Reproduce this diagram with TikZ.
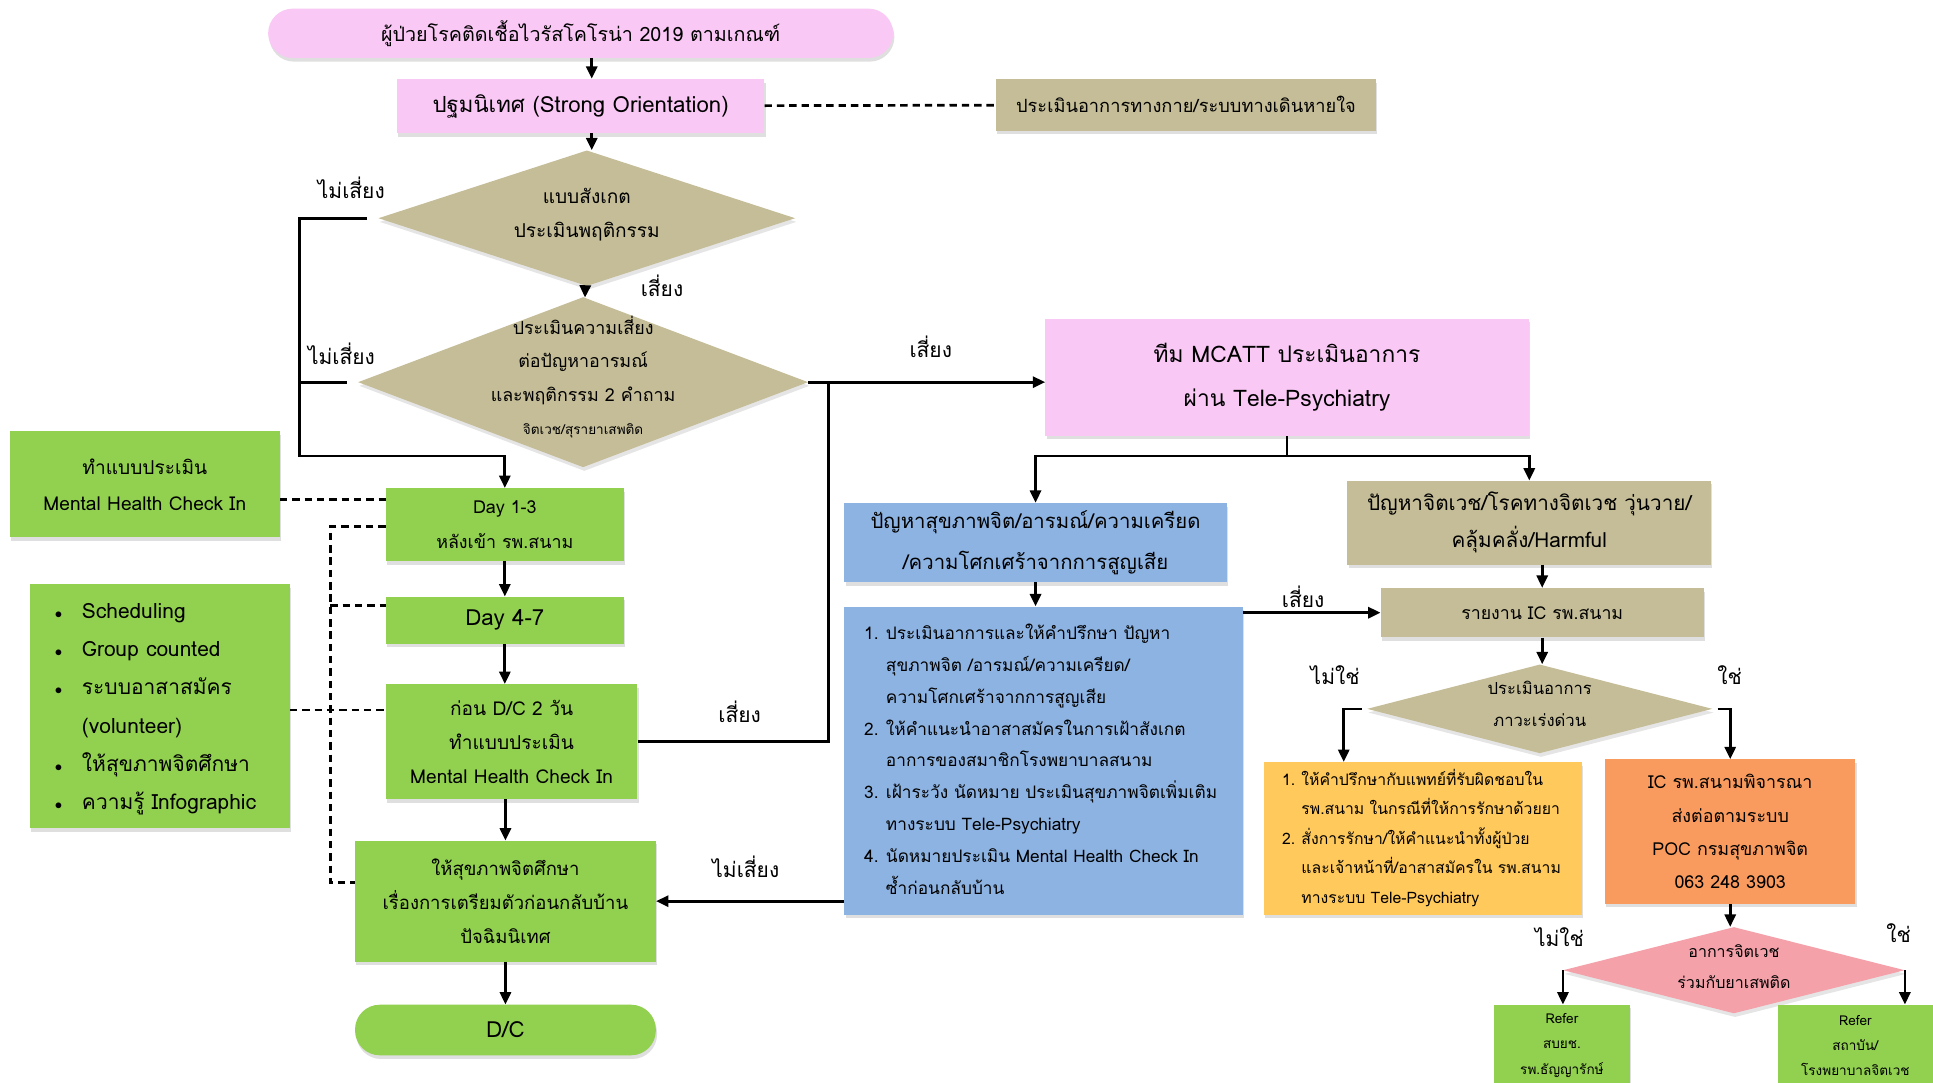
\documentclass[tikz,border=0pt]{standalone}
\usepackage{fontspec}
\setmainfont[Script=Thai]{Loma}
\usetikzlibrary{shapes.geometric,shadows,arrows.meta,calc}
\definecolor{cpink}{HTML}{F9C8F5}
\definecolor{ctan}{HTML}{C4BD97}
\definecolor{cgreen}{HTML}{92D050}
\definecolor{cblue}{HTML}{8DB3E2}
\definecolor{cgold}{HTML}{FFC95C}
\definecolor{corange}{HTML}{F99B5E}
\definecolor{crose}{HTML}{F4A1AA}
\newcommand{\fs}[2]{\fontsize{#1}{#2}\selectfont}
% text of zero size, so a diamond keeps the size it is given
\newcommand{\zbox}[1]{\makebox[0pt]{\raisebox{0pt}[0pt][0pt]{\begin{tabular}{@{}c@{}}#1\end{tabular}}}}
\begin{document}
\begin{tikzpicture}[x=1pt,y=-1pt,
  box/.style={rectangle, draw=none, inner sep=0pt, align=center,
    drop shadow={shadow xshift=1pt, shadow yshift=-3pt, opacity=0.25}},
  dia/.style={diamond, draw=none, inner sep=0pt,
    drop shadow={shadow xshift=1pt, shadow yshift=-3pt, opacity=0.2}},
  arr/.style={line width=2.2pt, -{Triangle[length=10pt,width=9pt]}},
  plain/.style={line width=2.2pt},
  dsh/.style={line width=2.2pt, dash pattern=on 6pt off 4pt},
  lbl/.style={inner sep=0pt, font=\fs{17}{20}},
]
\useasboundingbox (0,0) rectangle (1568,878);
\fill[white] (0,0) rectangle (1568,878);

% ---- main column ----
\node[box, fill=cpink, minimum width=507pt, minimum height=40pt, rounded corners=20pt, font=\fs{16}{20}]
  (start) at (471,27) {ผู้ป่วยโรคติดเชื้อไวรัสโคโรน่า 2019 ตามเกณฑ์};
\node[box, fill=cpink, minimum width=298pt, minimum height=44pt, font=\fs{18}{20}]
  (orient) at (471,86) {ปฐมนิเทศ (Strong Orientation)};
\node[box, fill=ctan, minimum width=308pt, minimum height=42pt, font=\fs{14.8}{20}]
  (phys) at (962,85) {ประเมินอาการทางกาย/ระบบทางเดินหายใจ};
\node[dia, fill=ctan, minimum width=338pt, minimum height=110pt, font=\fs{15.5}{28}]
  (obs) at (476,177) {\zbox{แบบสังเกต\\ประเมินพฤติกรรม}};
\node[dia, fill=ctan, minimum width=365pt, minimum height=138pt, font=\fs{14.5}{27}]
  (risk) at (473,310) {\zbox{ประเมินความเสี่ยง\\ต่อปัญหาอารมณ์\\และพฤติกรรม 2 คำถาม\\{\fs{11}{27}จิตเวช/สุรายาเสพติด}}};

\node[box, fill=cgreen, minimum width=219pt, minimum height=86pt, font=\fs{15.5}{29}]
  (mhc) at (117.5,393) {ทำแบบประเมิน\\Mental Health Check In};
\node[box, fill=cgreen, minimum width=193pt, minimum height=59pt, font=\fs{14.5}{28}]
  (day13) at (409.5,425.5) {Day 1-3\\หลังเข้า รพ.สนาม};
\node[box, fill=cgreen, minimum width=193pt, minimum height=38pt, font=\fs{18}{20}]
  (day47) at (409.5,503) {Day 4-7};
\node[box, fill=cgreen, minimum width=204pt, minimum height=93pt, font=\fs{15.5}{27.5}]
  (dc2) at (415,601.5) {ก่อน D/C 2 วัน\\ทำแบบประเมิน\\Mental Health Check In};
\node[box, fill=cgreen, minimum width=244pt, minimum height=98pt, font=\fs{15}{27.5}]
  (edu) at (410,731) {ให้สุขภาพจิตศึกษา\\เรื่องการเตรียมตัวก่อนกลับบ้าน\\ปัจฉิมนิเทศ};
\node[box, fill=cgreen, minimum width=244pt, minimum height=41pt, rounded corners=20pt, font=\fs{18}{20}]
  (dc) at (410,835.5) {D/C};
\node[box, fill=cgreen, minimum width=211pt, minimum height=198pt, font=\fs{17}{31}, text width=170pt, align=left]
  (bul) at (129.5,573) {\begin{tabular}{@{}c@{\hspace{16pt}}l@{}}
    {\fs{12}{31}$\bullet$} & Scheduling\\
    {\fs{12}{31}$\bullet$} & Group counted\\
    {\fs{12}{31}$\bullet$} & ระบบอาสาสมัคร\\
              & (volunteer)\\
    {\fs{12}{31}$\bullet$} & ให้สุขภาพจิตศึกษา\\
    {\fs{12}{31}$\bullet$} & ความรู้ Infographic
  \end{tabular}};

% ---- right part ----
\node[box, fill=cpink, minimum width=392pt, minimum height=95pt, font=\fs{18.5}{35}]
  (mcatt) at (1044,306) {ทีม MCATT ประเมินอาการ\\ผ่าน Tele-Psychiatry};
\node[box, fill=cblue, minimum width=310pt, minimum height=64pt, font=\fs{16.5}{33}]
  (hdr) at (840,440) {ปัญหาสุขภาพจิต/อารมณ์/ความเครียด\\/ความโศกเศร้าจากการสูญเสีย};
\node[box, fill=cblue, minimum width=323pt, minimum height=250pt, font=\fs{14}{25.8}, text width=291pt, align=left]
  (acts) at (846.5,617) {\begin{tabular}{@{}l@{\hspace{6pt}}l@{}}
    1. & ประเมินอาการและให้คำปรึกษา ปัญหา\\
       & สุขภาพจิต /อารมณ์/ความเครียด/\\
       & ความโศกเศร้าจากการสูญเสีย\\
    2. & ให้คำแนะนำอาสาสมัครในการเฝ้าสังเกต\\
       & อาการของสมาชิกโรงพยาบาลสนาม\\
    3. & เฝ้าระวัง นัดหมาย ประเมินสุขภาพจิตเพิ่มเติม\\
       & ทางระบบ Tele-Psychiatry\\
    4. & นัดหมายประเมิน Mental Health Check In\\
       & ซ้ำก่อนกลับบ้าน
  \end{tabular}};
\node[box, fill=ctan, minimum width=295pt, minimum height=68pt, font=\fs{16.8}{30}]
  (harm) at (1240.5,424) {ปัญหาจิตเวช/โรคทางจิตเวช วุ่นวาย/\\คลุ้มคลั่ง/Harmful};
\node[box, fill=ctan, minimum width=262pt, minimum height=40pt, font=\fs{14.4}{20}]
  (ic) at (1251,497) {รายงาน IC รพ.สนาม};
\node[dia, fill=ctan, minimum width=280pt, minimum height=72pt, font=\fs{13.5}{26}]
  (urg) at (1249,575) {\zbox{ประเมินอาการ\\ภาวะเร่งด่วน}};
\node[box, fill=cgold, minimum width=258pt, minimum height=124pt, font=\fs{12.8}{24}, text width=228pt, align=left]
  (cons) at (1154,680) {\begin{tabular}{@{}l@{\hspace{5pt}}l@{}}
    1. & ให้คำปรึกษากับแพทย์ที่รับผิดชอบใน\\
       & รพ.สนาม ในกรณีที่ให้การรักษาด้วยยา\\
    2. & สั่งการรักษา/ให้คำแนะนำทั้งผู้ป่วย\\
       & และเจ้าหน้าที่/อาสาสมัครใน รพ.สนาม\\
       & ทางระบบ Tele-Psychiatry
  \end{tabular}};
\node[box, fill=corange, minimum width=203pt, minimum height=117pt, font=\fs{14.5}{27}]
  (poc) at (1403.5,674.5) {IC รพ.สนามพิจารณา\\ส่งต่อตามระบบ\\POC กรมสุขภาพจิต\\063 248 3903};
\node[dia, fill=crose, minimum width=277pt, minimum height=70pt, font=\fs{13}{25}]
  (drug) at (1406.5,787) {\zbox{อาการจิตเวช\\ร่วมกับยาเสพติด}};
\node[box, fill=cgreen, minimum width=110pt, minimum height=66pt, font=\fs{11}{20.5}]
  (refl) at (1267,848) {Refer\\สบยช.\\รพ.ธัญญารักษ์};
\node[box, fill=cgreen, minimum width=126pt, minimum height=66pt, font=\fs{11}{20.5}]
  (refr) at (1505,848) {Refer\\สถาบัน/\\โรงพยาบาลจิตเวช};

% ---- helper points ----
\coordinate (ax) at (480,0);
\coordinate (lx) at (243,370);
\coordinate (jn) at (672,310);
\coordinate (split) at (1044,370);
\coordinate (ytop) at (1090,618);
\coordinate (vd) at (268,0);
\coordinate (h405) at (0,405);
\coordinate (h427) at (0,427);
\coordinate (h491) at (0,491);
\coordinate (h576) at (0,576);
\coordinate (h716) at (0,716);

% ---- connectors ----
\draw[arr] (start.south -| ax) -- (orient.north -| ax);
\draw[arr] (orient.south -| ax) -- (obs.north -| ax);
\draw[dsh] (orient) -- (phys);
\draw[arr] (obs) -- (risk);
\draw[arr, shorten <=9pt] (obs.west) -| (lx) -| (day13.north);
\draw[plain, shorten <=9pt] (risk.west) -- (risk.west -| lx);
\draw[arr] (risk.east) -- (risk.east -| mcatt.west);
\draw[plain] (dc2.east) -| (jn);
\draw[plain] (mcatt.south) -- (split);
\draw[arr] (split) -| (hdr.north);
\draw[arr] (split) -| (harm.north);
\draw[arr] (hdr.south) -- (hdr.south |- acts.north);
\draw[arr] (acts.east |- ic.west) -- (ic.west);
\draw[arr] (acts.west |- edu.east) -- (edu.east);
\draw[arr] (ic.north |- harm.south) -- (ic.north);
\draw[arr] (ic.south) -- (ic.south |- urg.north);
\draw[arr, shorten <=4pt] (urg.west) -| (ytop);
\draw[arr, shorten <=4pt] (urg.east) -| (poc.north);
\draw[arr] (poc.south) -- (poc.south |- drug.north);
\draw[arr] (drug.west) -- (drug.west |- refl.north);
\draw[arr] (drug.east) -- (drug.east |- refr.north);

\draw[arr] (day13) -- (day47);
\draw[arr] (day47.south) -- (day47.south |- dc2.north);
\draw[arr] (edu.north |- dc2.south) -- (edu.north);
\draw[arr] (edu) -- (dc);

\draw[dsh] (mhc.east |- h405) -- (day13.west |- h405);
\draw[dsh] (day13.west |- h427) -- (vd |- h427) -- (vd |- h716) -- (edu.west |- h716);
\draw[dsh] (vd |- h491) -- (day47.west |- h491);
\draw[dsh] (bul.east |- h576) -- (dc2.west |- h576);

% ---- labels ----
\node[lbl] (no1) at (285,152) {ไม่เสี่ยง};
\node[lbl] (no2) at (277,287) {ไม่เสี่ยง};
\node[lbl] (yes1) at (537,232) {เสี่ยง};
\node[lbl] (yes2) at (755,281) {เสี่ยง};
\node[lbl] (yes3) at (600,577) {เสี่ยง};
\node[lbl] (yes4) at (1057,484) {เสี่ยง};
\node[lbl] (no3) at (605,703) {ไม่เสี่ยง};
\node[lbl] (notu) at (1083,548) {ไม่ใช่};
\node[lbl] (isu) at (1403,548) {ใช่};
\node[lbl] (notd) at (1265,760) {ไม่ใช่};
\node[lbl] (isd) at (1540,757) {ใช่};
\end{tikzpicture}
\end{document}
